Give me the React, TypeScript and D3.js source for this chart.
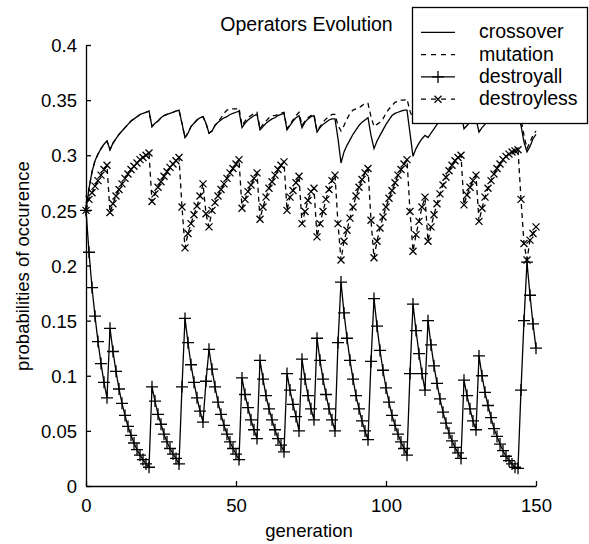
import React, { useRef, useEffect } from 'react';
import * as d3 from 'd3';

// values per generation 0..150
const crossover = [
  0.250, 0.270, 0.285, 0.295, 0.301, 0.306, 0.310, 0.313, 0.305, 0.311,
  0.315, 0.319, 0.322, 0.325, 0.328, 0.331, 0.333, 0.335, 0.337, 0.338,
  0.339, 0.340, 0.326, 0.329, 0.331, 0.334, 0.336, 0.337, 0.338, 0.339,
  0.340, 0.341, 0.329, 0.316, 0.320, 0.326, 0.329, 0.332, 0.334, 0.335,
  0.329, 0.320, 0.322, 0.327, 0.330, 0.332, 0.334, 0.335, 0.337, 0.338,
  0.339, 0.340, 0.325, 0.329, 0.332, 0.334, 0.336, 0.337, 0.323, 0.326,
  0.329, 0.331, 0.333, 0.334, 0.336, 0.337, 0.338, 0.323, 0.327, 0.331,
  0.334, 0.336, 0.325, 0.330, 0.333, 0.335, 0.336, 0.321, 0.325, 0.328,
  0.330, 0.332, 0.333, 0.333, 0.315, 0.293, 0.303, 0.309, 0.314, 0.319,
  0.323, 0.327, 0.330, 0.332, 0.334, 0.318, 0.306, 0.313, 0.318, 0.323,
  0.328, 0.332, 0.336, 0.338, 0.339, 0.340, 0.341, 0.341, 0.320, 0.299,
  0.306, 0.311, 0.315, 0.318, 0.316, 0.320, 0.324, 0.328, 0.331, 0.333,
  0.334, 0.335, 0.336, 0.337, 0.338, 0.339, 0.324, 0.327, 0.330, 0.332,
  0.333, 0.321, 0.325, 0.328, 0.331, 0.333, 0.335, 0.336, 0.337, 0.338,
  0.339, 0.339, 0.340, 0.340, 0.336, 0.327, 0.312, 0.303, 0.308, 0.315,
  0.319,
];

const mutation = [
  0.250, 0.270, 0.285, 0.295, 0.301, 0.306, 0.310, 0.313, 0.305, 0.311,
  0.315, 0.319, 0.322, 0.325, 0.328, 0.331, 0.333, 0.335, 0.337, 0.338,
  0.339, 0.340, 0.326, 0.329, 0.331, 0.334, 0.336, 0.337, 0.338, 0.339,
  0.340, 0.341, 0.329, 0.316, 0.320, 0.326, 0.329, 0.332, 0.334, 0.335,
  0.329, 0.320, 0.322, 0.327, 0.330, 0.334, 0.338, 0.341, 0.342, 0.342,
  0.342, 0.343, 0.327, 0.331, 0.334, 0.336, 0.338, 0.339, 0.324, 0.328,
  0.331, 0.334, 0.336, 0.336, 0.337, 0.338, 0.339, 0.324, 0.328, 0.332,
  0.336, 0.339, 0.327, 0.331, 0.334, 0.336, 0.337, 0.322, 0.326, 0.330,
  0.333, 0.335, 0.337, 0.337, 0.327, 0.322, 0.327, 0.333, 0.338, 0.341,
  0.342, 0.343, 0.345, 0.347, 0.347, 0.335, 0.326, 0.328, 0.330, 0.333,
  0.338, 0.342, 0.345, 0.348, 0.349, 0.350, 0.350, 0.351, 0.340, 0.333,
  0.338, 0.342, 0.345, 0.347, 0.338, 0.342, 0.345, 0.347, 0.349, 0.350,
  0.351, 0.352, 0.352, 0.353, 0.353, 0.353, 0.336, 0.338, 0.339, 0.340,
  0.341, 0.330, 0.334, 0.337, 0.340, 0.342, 0.344, 0.345, 0.346, 0.347,
  0.348, 0.348, 0.349, 0.349, 0.345, 0.333, 0.318, 0.306, 0.312, 0.318,
  0.322,
];

const destroyall = [
  0.250, 0.212, 0.180, 0.154, 0.131, 0.111, 0.094, 0.080, 0.143, 0.122,
  0.104, 0.088, 0.075, 0.064, 0.054, 0.046, 0.039, 0.033, 0.028, 0.024,
  0.020, 0.017, 0.090, 0.077, 0.065, 0.056, 0.047, 0.040, 0.034, 0.029,
  0.025, 0.020, 0.090, 0.152, 0.130, 0.110, 0.094, 0.080, 0.068, 0.058,
  0.095, 0.124, 0.106, 0.090, 0.076, 0.065, 0.055, 0.047, 0.040, 0.034,
  0.029, 0.024, 0.098, 0.083, 0.071, 0.060, 0.051, 0.043, 0.114, 0.097,
  0.082, 0.070, 0.060, 0.051, 0.043, 0.037, 0.031, 0.102, 0.087, 0.074,
  0.063, 0.050, 0.115, 0.097, 0.082, 0.070, 0.060, 0.134, 0.114, 0.097,
  0.083, 0.070, 0.060, 0.050, 0.130, 0.185, 0.157, 0.134, 0.114, 0.097,
  0.082, 0.070, 0.059, 0.050, 0.042, 0.113, 0.170, 0.145, 0.123, 0.105,
  0.089, 0.076, 0.064, 0.055, 0.047, 0.040, 0.034, 0.028, 0.102, 0.165,
  0.141, 0.120, 0.102, 0.087, 0.150, 0.128, 0.109, 0.093, 0.079, 0.067,
  0.057, 0.048, 0.041, 0.035, 0.030, 0.025, 0.096, 0.082, 0.070, 0.059,
  0.051, 0.118, 0.100, 0.085, 0.073, 0.062, 0.052, 0.045, 0.038, 0.032,
  0.027, 0.023, 0.020, 0.017, 0.016, 0.087, 0.150, 0.203, 0.173, 0.147,
  0.125,
];

const destroyless = [
  0.250, 0.260, 0.266, 0.272, 0.277, 0.282, 0.287, 0.291, 0.248, 0.256,
  0.263, 0.269, 0.274, 0.279, 0.283, 0.287, 0.290, 0.293, 0.296, 0.298,
  0.300, 0.302, 0.258, 0.265, 0.271, 0.276, 0.281, 0.285, 0.289, 0.292,
  0.295, 0.298, 0.253, 0.216, 0.229, 0.238, 0.246, 0.254, 0.263, 0.274,
  0.247, 0.235, 0.250, 0.257, 0.263, 0.269, 0.274, 0.279, 0.284, 0.288,
  0.292, 0.296, 0.252, 0.260, 0.267, 0.273, 0.279, 0.284, 0.242, 0.253,
  0.262, 0.270, 0.276, 0.282, 0.287, 0.291, 0.294, 0.250, 0.262, 0.268,
  0.275, 0.281, 0.238, 0.249, 0.259, 0.267, 0.270, 0.226, 0.238, 0.249,
  0.260, 0.269, 0.277, 0.282, 0.238, 0.205, 0.222, 0.232, 0.243, 0.253,
  0.263, 0.271, 0.278, 0.284, 0.288, 0.241, 0.207, 0.222, 0.234, 0.244,
  0.253, 0.261, 0.268, 0.275, 0.282, 0.287, 0.292, 0.296, 0.249, 0.213,
  0.228, 0.240, 0.253, 0.262, 0.222, 0.235, 0.246, 0.256, 0.265, 0.273,
  0.280, 0.286, 0.291, 0.295, 0.298, 0.300, 0.255, 0.264, 0.271, 0.277,
  0.282, 0.240, 0.252, 0.262, 0.270, 0.277, 0.283, 0.288, 0.292, 0.296,
  0.299, 0.301, 0.303, 0.304, 0.305, 0.260, 0.220, 0.205, 0.223, 0.229,
  0.235,
];

const generationTicks = [0, 50, 100, 150];
const probabilityTicks = [0, 0.05, 0.1, 0.15, 0.2, 0.25, 0.3, 0.35, 0.4];
const probabilityLabels = ['0', '0.05', '0.1', '0.15', '0.2', '0.25', '0.3', '0.35', '0.4'];
const legendNames = ['crossover', 'mutation', 'destroyall', 'destroyless'];

const width = 589;
const height = 544;
const font = '"Liberation Sans", Arial, sans-serif';
const axisFontSize = 18.5;
const titleFontSize = 19.5;
const strokeW = 1.3;

const plusPath = 'M-6,0H6M0,-6V6';
const crossPath = 'M-3.5,-3.5L3.5,3.5M-3.5,3.5L3.5,-3.5';

export default function App() {
  const svgRef = useRef<SVGSVGElement>(null);

  useEffect(() => {
    if (!svgRef.current) return;
    const svg = d3.select(svgRef.current);
    svg.selectAll('*').remove();

    const x = d3.scaleLinear().domain([0, 150]).range([86, 536]);
    const y = d3.scaleLinear().domain([0, 0.4]).range([486, 45]);

    svg.append('rect').attr('width', width).attr('height', height).attr('fill', '#fff');

    // axes, ticks pointing inward like matlab
    const yAxis = d3.axisLeft(y)
      .tickValues(probabilityTicks)
      .tickFormat((d, i) => probabilityLabels[i])
      .tickSizeInner(-5)
      .tickSizeOuter(0)
      .tickPadding(9);
    const xAxis = d3.axisBottom(x)
      .tickValues(generationTicks)
      .tickFormat(d => String(d))
      .tickSizeInner(-5)
      .tickSizeOuter(0)
      .tickPadding(13);

    const gy = svg.append('g').attr('transform', 'translate(86,0)').call(yAxis);
    const gx = svg.append('g').attr('transform', 'translate(0,486)').call(xAxis);
    [gy, gx].forEach(g => {
      g.attr('font-family', font).attr('font-size', axisFontSize);
      g.selectAll('text').attr('fill', '#000');
      g.selectAll('line, path').attr('stroke', '#000').attr('stroke-width', strokeW);
    });
    gy.selectAll('text').attr('dy', '0.36em');

    const line = d3.line<number>().x((_, i) => x(i)).y(d => y(d));

    const plot = svg.append('g').attr('fill', 'none').attr('stroke', '#000').attr('stroke-width', strokeW);
    plot.append('path').attr('d', line(crossover));
    plot.append('path').attr('d', line(mutation)).attr('stroke-dasharray', '5,4');
    plot.append('path').attr('d', line(destroyall));
    plot.append('path').attr('d', line(destroyless)).attr('stroke-dasharray', '5,4');

    plot.append('g').selectAll('path').data(destroyall).enter().append('path')
      .attr('d', plusPath)
      .attr('transform', (d, i) => `translate(${x(i)},${y(d)})`);
    plot.append('g').selectAll('path').data(destroyless).enter().append('path')
      .attr('d', crossPath)
      .attr('transform', (d, i) => `translate(${x(i)},${y(d)})`);

    // title and labels
    const txt = svg.append('g').attr('font-family', font).attr('fill', '#000');
    txt.append('text').attr('x', 306.5).attr('y', 31).attr('text-anchor', 'middle')
      .attr('font-size', titleFontSize).text('Operators Evolution');
    txt.append('text').attr('x', 309).attr('y', 537).attr('text-anchor', 'middle')
      .attr('font-size', axisFontSize).text('generation');
    txt.append('text').attr('transform', 'translate(29,266) rotate(-90)').attr('text-anchor', 'middle')
      .attr('font-size', axisFontSize).text('probabilities of occurence');

    // legend
    const legend = svg.append('g');
    legend.append('rect').attr('x', 412.5).attr('y', 7.5).attr('width', 175).attr('height', 116)
      .attr('fill', '#fff').attr('stroke', '#000').attr('stroke-width', strokeW);
    const rows = [32.3, 54.6, 76.9, 99.2];
    legendNames.forEach((name, i) => {
      const ry = rows[i];
      const row = legend.append('g').attr('stroke-width', strokeW);
      const seg = row.append('line').attr('x1', 421).attr('x2', 455).attr('y1', ry).attr('y2', ry)
        .attr('stroke', '#000');
      if (i === 1 || i === 3) seg.attr('stroke-dasharray', '5,5');
      if (i === 2) row.append('path').attr('d', plusPath).attr('transform', `translate(438,${ry})`).attr('stroke', '#000');
      if (i === 3) row.append('path').attr('d', crossPath).attr('transform', `translate(438,${ry})`).attr('stroke', '#000');
      row.append('text').attr('x', 479).attr('y', ry + 6).attr('font-family', font).attr('font-size', titleFontSize)
        .text(name);
    });
  }, []);

  return (
    <svg
      ref={svgRef}
      width={width}
      height={height}
      style={{ position: 'absolute', left: 0, top: 0, display: 'block' }}
    />
  );
}
